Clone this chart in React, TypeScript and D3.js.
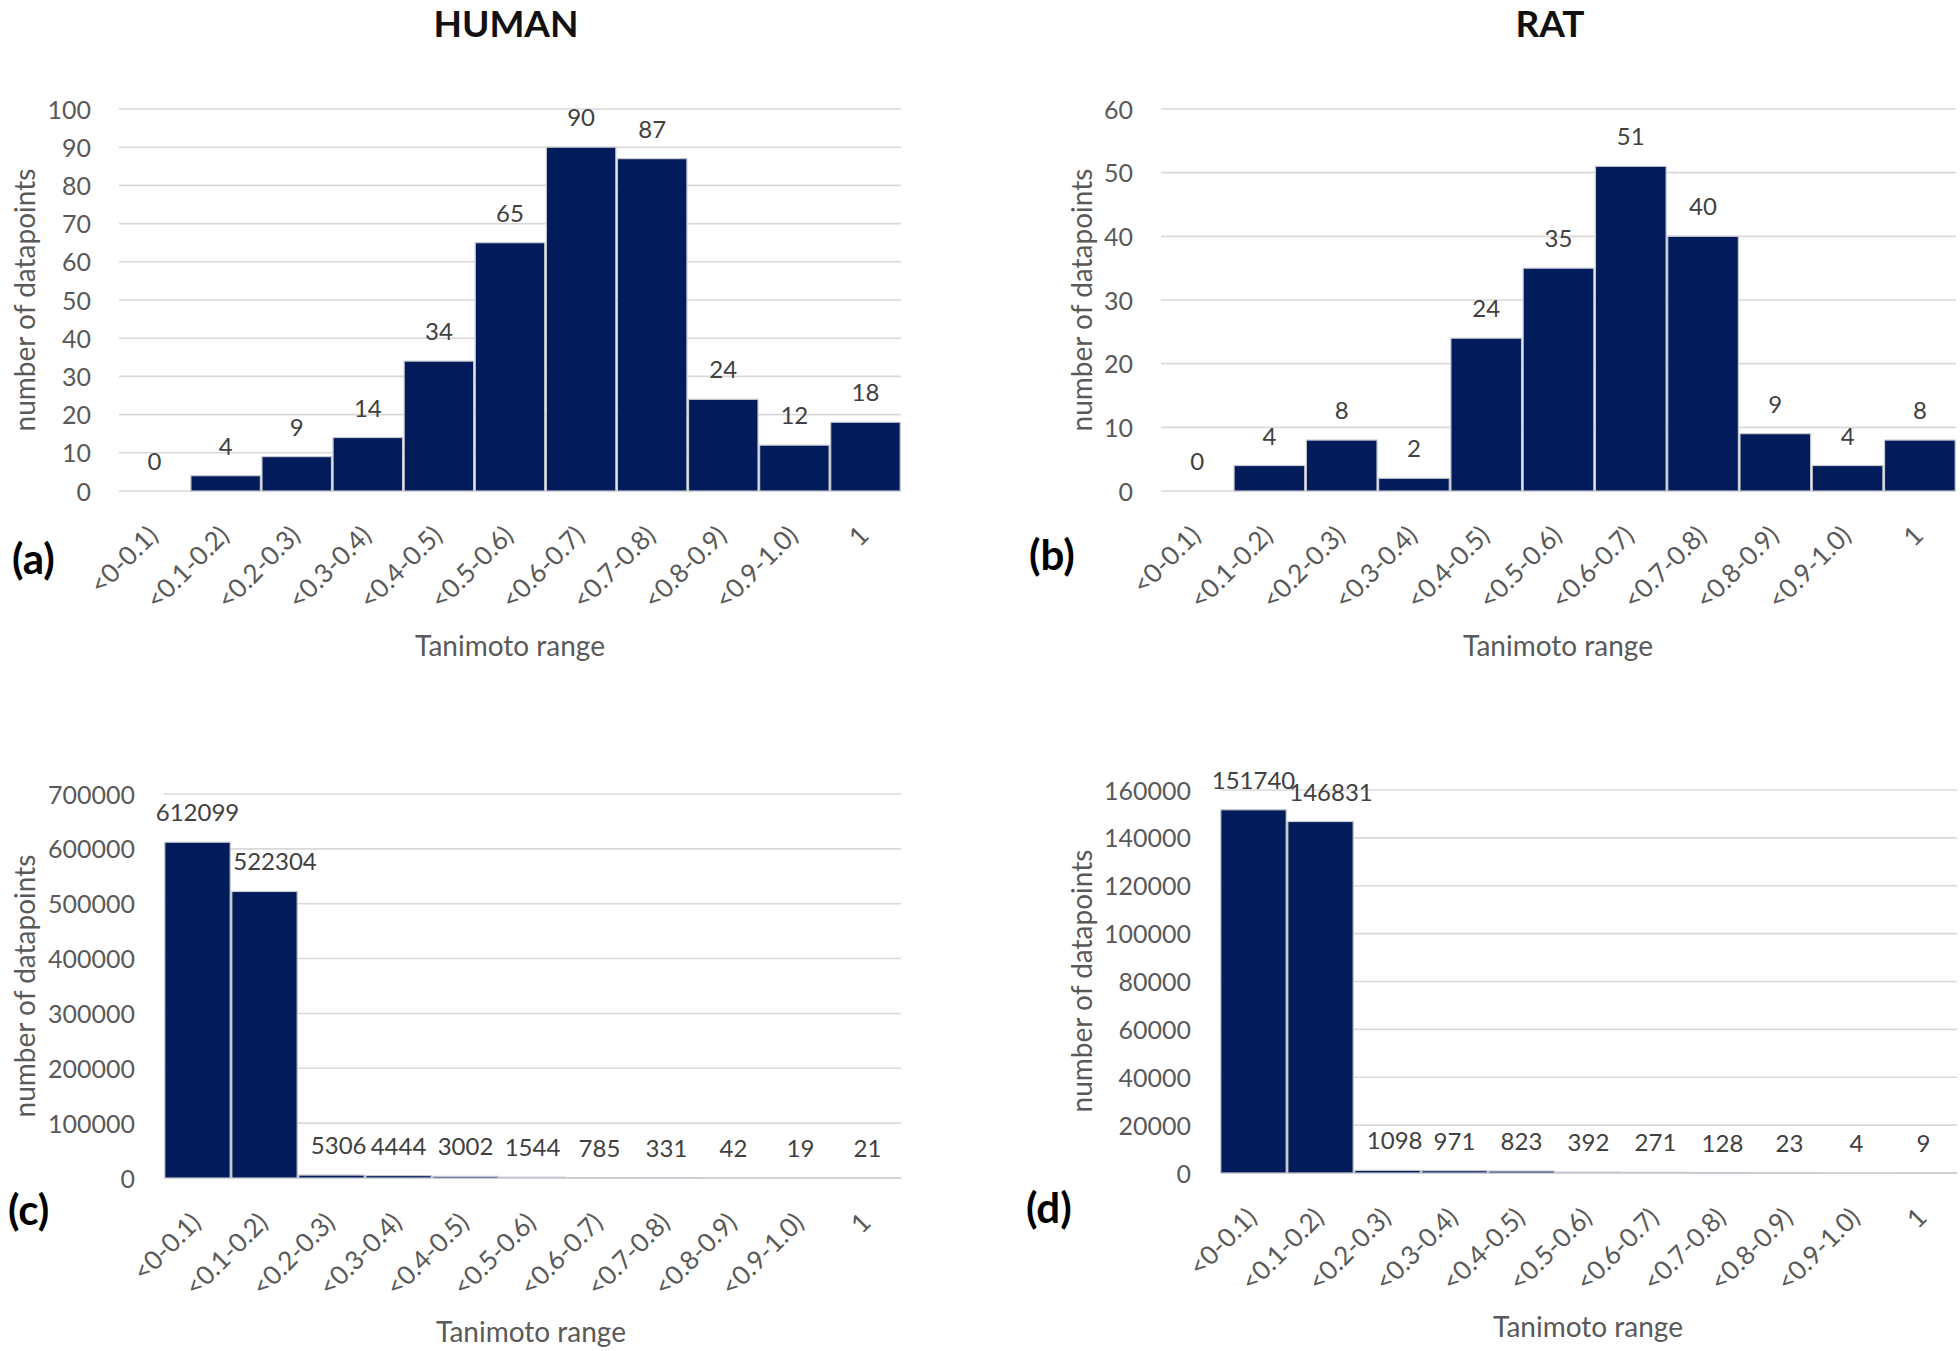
import React, { useEffect, useRef } from 'react';
import * as d3 from 'd3';

// Tanimoto bins shared by all four histograms
const categories = ['<0-0.1)', '<0.1-0.2)', '<0.2-0.3)', '<0.3-0.4)', '<0.4-0.5)', '<0.5-0.6)', '<0.6-0.7)', '<0.7-0.8)', '<0.8-0.9)', '<0.9-1.0)', '1'];

const humanCounts = [0, 4, 9, 14, 34, 65, 90, 87, 24, 12, 18];
const ratCounts = [0, 4, 8, 2, 24, 35, 51, 40, 9, 4, 8];
const humanAllCounts = [612099, 522304, 5306, 4444, 3002, 1544, 785, 331, 42, 19, 21];
const ratAllCounts = [151740, 146831, 1098, 971, 823, 392, 271, 128, 23, 4, 9];

const humanTicks = [0, 10, 20, 30, 40, 50, 60, 70, 80, 90, 100];
const ratTicks = [0, 10, 20, 30, 40, 50, 60];
const humanAllTicks = [0, 100000, 200000, 300000, 400000, 500000, 600000, 700000];
const ratAllTicks = [0, 20000, 40000, 60000, 80000, 100000, 120000, 140000, 160000];

const FONT = "Lato, 'Open Sans', sans-serif";
const NAVY = '#021b5a';

const panels = [
  { letter: '(a)', values: humanCounts, ticks: humanTicks, xr: [119, 901], yr: [491, 109], tickRight: 91,
    yTitle: [25, 300], letterPos: [12, 574], xTitle: [510, 656] },
  { letter: '(b)', values: ratCounts, ticks: ratTicks, xr: [1161, 1956], yr: [491, 109], tickRight: 1133,
    yTitle: [1082, 300], letterPos: [1029, 570], xTitle: [1558, 656] },
  { letter: '(c)', values: humanAllCounts, ticks: humanAllTicks, xr: [164, 901], yr: [1178, 794], tickRight: 135,
    yTitle: [25, 986], letterPos: [8, 1225], xTitle: [531, 1342] },
  { letter: '(d)', values: ratAllCounts, ticks: ratAllTicks, xr: [1220, 1957], yr: [1173, 790], tickRight: 1191,
    yTitle: [1082, 981], letterPos: [1026, 1223], xTitle: [1588, 1337] }
];

function drawPanel(svg, p) {
  const x = d3.scaleBand().domain(categories).range(p.xr).padding(0);
  const y = d3.scaleLinear().domain([0, d3.max(p.ticks)]).range(p.yr);
  const g = svg.append('g');

  // horizontal gridlines
  g.selectAll('.grid')
    .data(p.ticks)
    .join('line')
    .attr('class', 'grid')
    .attr('x1', p.xr[0])
    .attr('x2', p.xr[1])
    .attr('y1', d => y(d))
    .attr('y2', d => y(d))
    .attr('stroke', '#d9d9d9')
    .attr('stroke-width', 1.6);

  // y axis labels
  const yAxis = g.append('g')
    .attr('transform', `translate(${p.tickRight},0)`)
    .call(d3.axisLeft(y).tickValues(p.ticks).tickSize(0).tickPadding(0).tickFormat(d3.format('d')));
  yAxis.select('.domain').remove();
  yAxis.selectAll('text')
    .attr('font-family', FONT)
    .attr('font-size', 25)
    .attr('fill', '#595959')
    .attr('dy', '0.36em');

  // bars
  g.selectAll('.bar')
    .data(p.values)
    .join('rect')
    .attr('class', 'bar')
    .attr('x', (d, i) => x(categories[i]) + 0.8)
    .attr('width', x.bandwidth() - 1.6)
    .attr('y', d => y(d))
    .attr('height', d => y(0) - y(d))
    .attr('fill', NAVY)
    .attr('stroke', '#c6c9d0')
    .attr('stroke-width', 1.2);

  // value labels, nudged right when they would collide
  let prevRight = -Infinity;
  g.selectAll('.val')
    .data(p.values)
    .join('text')
    .attr('class', 'val')
    .attr('font-family', FONT)
    .attr('font-size', 24)
    .attr('fill', '#404040')
    .attr('text-anchor', 'middle')
    .attr('y', d => y(d) - 21)
    .text(d => d)
    .each(function (d, i) {
      const cx = x(categories[i]) + x.bandwidth() / 2;
      const w = this.getComputedTextLength();
      let left = cx - w / 2;
      if (left < prevRight - 6) left = prevRight - 6;
      d3.select(this).attr('x', left + w / 2);
      prevRight = left + w;
    });

  // x axis category labels
  const xAxis = g.append('g')
    .attr('transform', `translate(0,${y(0)})`)
    .call(d3.axisBottom(x).tickSize(0).tickPadding(0));
  xAxis.select('.domain').remove();
  xAxis.selectAll('text')
    .attr('font-family', FONT)
    .attr('font-size', 26)
    .attr('fill', '#595959')
    .attr('text-anchor', 'end')
    .attr('y', 0)
    .attr('dy', 0)
    .attr('transform', 'translate(5,46) rotate(-45)');

  g.append('text')
    .attr('font-family', FONT)
    .attr('font-size', 28)
    .attr('fill', '#595959')
    .attr('text-anchor', 'middle')
    .attr('x', p.xTitle[0])
    .attr('y', p.xTitle[1])
    .text('Tanimoto range');

  g.append('text')
    .attr('font-family', FONT)
    .attr('font-size', 28)
    .attr('fill', '#595959')
    .attr('text-anchor', 'middle')
    .attr('dy', '0.35em')
    .attr('transform', `translate(${p.yTitle[0]},${p.yTitle[1]}) rotate(-90)`)
    .text('number of datapoints');

  g.append('text')
    .attr('font-family', FONT)
    .attr('font-size', 42)
    .attr('font-weight', 'bold')
    .attr('fill', '#000')
    .attr('x', p.letterPos[0])
    .attr('y', p.letterPos[1])
    .text(p.letter);
}

export default function App() {
  const ref = useRef(null);

  useEffect(() => {
    const svg = d3.select(ref.current);
    svg.selectAll('*').remove();
    panels.forEach(p => drawPanel(svg, p));

    svg.selectAll('.title')
      .data([['HUMAN', 506], ['RAT', 1550]])
      .join('text')
      .attr('class', 'title')
      .attr('font-family', FONT)
      .attr('font-size', 37)
      .attr('font-weight', 'bold')
      .attr('fill', '#111')
      .attr('text-anchor', 'middle')
      .attr('x', d => d[1])
      .attr('y', 37)
      .text(d => d[0]);
  }, []);

  return (
    <div style={{ position: 'absolute', left: 0, top: 0 }}>
      <svg ref={ref} width={1960} height={1351} style={{ display: 'block', background: '#fff' }}></svg>
    </div>
  );
}
